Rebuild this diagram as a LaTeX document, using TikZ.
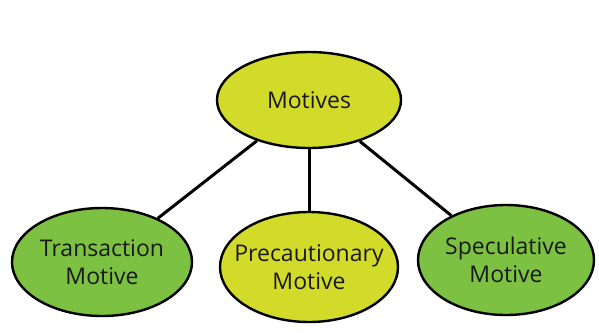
\documentclass[tikz,border=0pt]{standalone}
\usepackage{fontspec}
\setmainfont{Open Sans}
\usetikzlibrary{shapes.geometric}
\definecolor{yel}{HTML}{D2DB2A}
\definecolor{grn}{HTML}{7CC142}
\newcommand{\zw}[1]{\makebox[0pt]{#1}}
\tikzset{
  motive/.style={ellipse, draw=black, line width=2.4pt, inner sep=0pt, align=center, font=\fontsize{23}{28}\selectfont, text=black!90},
  link/.style={line width=3pt, draw=black}
}
\begin{document}
\begin{tikzpicture}[x=1pt,y=-1pt]
\useasboundingbox[fill=white] (0,0) rectangle (599,332);
\node[motive, fill=yel, minimum width=184pt, minimum height=96pt] (top) at (309,100) {\zw{Motives}};
\node[motive, fill=grn, minimum width=180pt, minimum height=108pt] (tr) at (102,262) {\zw{Transaction}\\\zw{Motive}};
\node[motive, fill=yel, minimum width=178pt, minimum height=110pt] (pr) at (309,267) {\zw{Precautionary}\\\zw{Motive}};
\node[motive, fill=grn, minimum width=176pt, minimum height=110pt] (sp) at (506,260) {\zw{Speculative}\\\zw{Motive}};
\draw[link] (top) -- (tr);
\draw[link] (top.south) -- (pr.north);
\draw[link] (top) -- (sp);
\end{tikzpicture}
\end{document}
